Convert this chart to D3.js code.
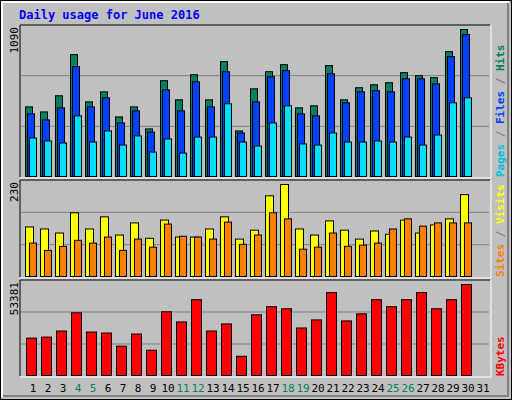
<!DOCTYPE html>
<html><head><meta charset="utf-8">
<script src="https://cdn.jsdelivr.net/npm/d3@7"></script>
<style>body{margin:0;background:#fff}svg text{font-family:"DejaVu Sans Mono",monospace}</style>
</head><body><svg id="chart"></svg>
<script>
var days = d3.range(1, 32);
var weekends = [4, 5, 11, 12, 18, 19, 25, 26];
var hits  = [520,483,602,905,557,631,446,520,358,713,572,757,572,853,343,653,779,831,513,528,824,572,661,683,698,772,750,735,927,1090];
var files = [469,424,513,816,520,587,402,491,335,646,491,705,520,779,328,557,742,787,469,454,764,550,631,639,631,727,727,690,890,1053];
var pages = [291,269,254,454,261,343,239,306,187,284,180,298,298,543,261,232,402,528,247,239,328,261,261,269,261,298,239,313,550,587];
var visits = [125,120,110,160,120,150,105,135,97,142,100,100,120,150,95,117,202,230,120,105,140,117,95,115,107,142,110,130,145,205];
var sites  = [85,67,77,92,85,100,67,95,75,132,102,100,95,137,82,105,160,145,70,75,110,77,80,85,120,145,127,135,135,135];
var kbytes = [22290,22870,26390,36950,25800,25220,17600,24630,15250,37540,31670,44570,26390,30500,11730,35780,40470,39300,28150,32840,48680,32260,36360,44570,40470,44570,48680,39300,44570,53381];

var width = 512, height = 400;
var svg = d3.select("#chart").attr("width", width).attr("height", height);

// frame
svg.append("rect").attr("x",0.5).attr("y",0.5).attr("width",width-1).attr("height",height-1)
  .attr("fill","#c0c0c0").attr("stroke","#000");
svg.append("path").attr("d","M2,397V2H509").attr("fill","none").attr("stroke","#fff").attr("stroke-width",2);
svg.append("path").attr("d","M3,396H508V3").attr("fill","none").attr("stroke","#808080").attr("stroke-width",2);

svg.append("text").attr("x",19).attr("y",19).attr("fill","#0000ff").attr("font-weight","bold")
  .attr("font-size",12).text("Daily usage for June 2016");

var x = d3.scaleBand().domain(days).range([22, 487]).paddingInner(0);

function panel(top, bottom, max, label, drawLabels) {
  var y = d3.scaleLinear().domain([0, max]).range([bottom, top + 4]);
  var g = svg.append("g");
  g.append("rect").attr("x",20).attr("y",top).attr("width",470).attr("height",bottom-top)
    .attr("fill","#c0c0c0");
  var h = bottom - top;
  [1/3, 2/3].forEach(function(f){
    g.append("line").attr("x1",21).attr("x2",489).attr("y1",bottom - h*f).attr("y2",bottom - h*f)
      .attr("stroke","#808080");
  });
  g.append("path").attr("d","M20,"+bottom+"V"+top+"H490").attr("fill","none").attr("stroke","#000");
  g.append("path").attr("d","M20,"+(bottom+1)+"H491V"+top).attr("fill","none").attr("stroke","#fff");
  svg.append("text").attr("transform","translate(18,"+(top+2)+") rotate(-90)")
    .attr("text-anchor","end").attr("font-size",11).attr("fill","#000").text(max);
  drawLabels(svg.append("text").attr("transform","translate(504,"+(bottom)+") rotate(-90)")
    .attr("font-size",11).attr("font-weight","bold"));
  return {g: g, y: y, bottom: bottom};
}

function bars(p, data, dx, w, color) {
  p.g.selectAll(null).data(data).enter().append("rect")
    .attr("x", function(d,i){ return x(days[i]) + dx + 0.5; })
    .attr("y", function(d){ return p.y(d) + 0.5; })
    .attr("width", w)
    .attr("height", function(d){ return p.bottom - p.y(d) - 1; })
    .attr("fill", color).attr("stroke","#000");
}

var p1 = panel(25, 177, 1090, "", function(t){
  t.append("tspan").attr("fill","#00c0e0").text("Pages");
  t.append("tspan").attr("fill","#808080").text(" / ");
  t.append("tspan").attr("fill","#0040ff").text("Files");
  t.append("tspan").attr("fill","#808080").text(" / ");
  t.append("tspan").attr("fill","#008060").text("Hits");
});
bars(p1, hits, 3, 7, "#008060");
bars(p1, files, 5, 7, "#0040ff");
bars(p1, pages, 7, 7, "#00e0ff");

var p2 = panel(180, 277, 230, "", function(t){
  t.append("tspan").attr("fill","#ff8000").text("Sites");
  t.append("tspan").attr("fill","#808080").text(" / ");
  t.append("tspan").attr("fill","#ffff00").text("Visits");
});
bars(p2, visits, 3, 8, "#ffff00");
bars(p2, sites, 7, 7, "#ff8000");

var p3 = panel(280, 376, 53381, "", function(t){
  t.append("tspan").attr("fill","#ff0000").text("KBytes");
});
bars(p3, kbytes, 4, 10, "#ff0000");

svg.append("g").selectAll("text").data(days).enter().append("text")
  .attr("x", function(d){ return x(d) + 11; })
  .attr("y", 392).attr("text-anchor","middle").attr("font-size",11)
  .attr("fill", function(d){ return weekends.indexOf(d) >= 0 ? "#008060" : "#000"; })
  .text(function(d){ return d; });
</script></body></html>
